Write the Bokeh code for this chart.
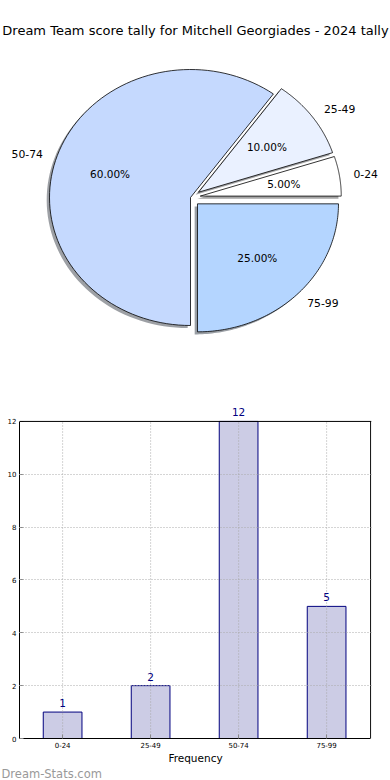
import numpy as np
from bokeh.plotting import figure
from bokeh.models import (Label, Range1d, FixedTicker, Title, ColumnDataSource,
                          Column, Row, LinearAxis, Span)
from bokeh.embed import file_html
from bokeh.resources import INLINE
from bokeh.core.properties import value

# ---------------- data ----------------
title_text = "Dream Team score tally for Mitchell Georgiades - 2024 tally"
categories = ["0-24", "25-49", "50-74", "75-99"]
counts = [1, 2, 12, 5]
pie_colors = ["#ffffff", "#eaf1ff", "#c5d9fe", "#b4d5ff"]
explode = [0.07, 0.07, 0.0, 0.07]
y_ticks = [0, 2, 4, 6, 8, 10, 12]
y_max = 12
x_axis_label = "Frequency"
watermark = "Dream-Stats.com"

FONT = "DejaVu Sans"

# ---------------- pie ----------------
p1 = figure(width=390, height=395, output_backend="svg", toolbar_location=None,
            x_range=Range1d(-190 / 141, 200 / 141),
            y_range=Range1d(-198 / 128, 197 / 128),
            x_axis_location=None, y_axis_location=None,
            min_border=0, outline_line_color=None)
p1.grid.visible = False

vals = np.array(counts, dtype=float)
fr = vals / vals.sum()
ends = np.cumsum(fr) * 2 * np.pi
starts = ends - fr * 2 * np.pi

wx, wy, sx, sy, scol = [], [], [], [], []
for i in range(len(categories)):
    th = np.linspace(starts[i], ends[i], 90)
    mid = (starts[i] + ends[i]) / 2
    ox, oy = explode[i] * np.cos(mid), explode[i] * np.sin(mid)
    xs = [ox] + list(ox + np.cos(th))
    ys = [oy] + list(oy + np.sin(th))
    wx.append(xs)
    wy.append(ys)
    sx.append([x - 0.02 for x in xs])
    sy.append([y - 0.02 for y in ys])
    h = pie_colors[i].lstrip("#")
    rgb = [int(h[k:k + 2], 16) for k in (0, 2, 4)]
    scol.append("#%02x%02x%02x" % tuple(int(0.3 * c) for c in rgb))

p1.patches(xs=sx, ys=sy, fill_color=scol, fill_alpha=0.5, line_color=None)
p1.patches(xs=wx, ys=wy, fill_color=pie_colors, line_color="black", line_width=0.8)

for i, cat in enumerate(categories):
    mid = (starts[i] + ends[i]) / 2
    ox, oy = explode[i] * np.cos(mid), explode[i] * np.sin(mid)
    lx, ly = ox + 1.1 * np.cos(mid), oy + 1.1 * np.sin(mid)
    p1.text(x=[lx], y=[ly], text=[cat],
            text_align="left" if lx > 0 else "right", text_baseline="middle",
            text_font=value(FONT), text_font_size="10.8px", text_color="black")
    px, py = ox + 0.6 * np.cos(mid), oy + 0.6 * np.sin(mid)
    p1.text(x=[px], y=[py], text=["%.2f%%" % (100 * fr[i])],
            text_align="center", text_baseline="middle",
            text_font=value(FONT), text_font_size="10.5px", text_color="black")

p1.add_layout(Label(x=195, y=365, x_units="screen", y_units="screen",
                    text=title_text, text_align="center", text_baseline="middle",
                    text_font=FONT, text_font_size="13px", text_color="black"))

# ---------------- bars ----------------
xpos = list(range(len(categories)))
# frame extends a little above y_max to leave room for the value labels
p2 = figure(width=390, height=385, output_backend="svg", toolbar_location=None,
            x_range=Range1d(-0.49, 3.51), y_range=Range1d(0, y_max * 1.066),
            y_axis_location=None,
            min_border_left=19, min_border_right=19, min_border_top=5,
            min_border_bottom=0, outline_line_color=None)

src = ColumnDataSource(dict(x=xpos, count=counts))
p2.vbar(x="x", top="count", width=0.44, source=src,
        fill_color="#ccccE5", line_color="#00007f", line_width=1)

# vertical dotted grid lines, limited to the axes box
p2.segment(x0=xpos, y0=[0] * len(xpos), x1=xpos, y1=[y_max] * len(xpos),
           line_color="#aaaaaa", line_dash="1 2", line_width=1)
p2.xgrid.visible = False
# right edge of the axes box
p2.segment(x0=[xpos[-1] + 0.5], y0=[0], x1=[xpos[-1] + 0.5], y1=[y_max],
           line_color="black", line_width=1)

for xv, c in zip(xpos, counts):
    p2.add_layout(Label(x=xv, y=c, y_offset=5, text=str(c),
                        text_align="center", text_baseline="bottom",
                        text_font=FONT, text_font_size="10.5px",
                        text_color="#000080"))

# left axis bounded to the box
yl = LinearAxis(ticker=FixedTicker(ticks=y_ticks), bounds=(0, y_max))
p2.add_layout(yl, "left")
p2.ygrid.ticker = FixedTicker(ticks=y_ticks[1:-1])
p2.ygrid.grid_line_color = "#aaaaaa"
p2.ygrid.grid_line_dash = "1 2"
p2.ygrid.grid_line_width = 1
p2.ygrid.level = "overlay"

p2.add_layout(Span(location=y_max, dimension="width", line_color="black",
                   line_width=1))

p2.xaxis.ticker = FixedTicker(ticks=xpos)
p2.xaxis.major_label_overrides = {xv: c for xv, c in zip(xpos, categories)}
p2.xaxis.bounds = (-0.49, xpos[-1] + 0.5)
for ax in (p2.xaxis[0], yl):
    ax.major_label_text_font = FONT
    ax.major_tick_in = 4
    ax.major_tick_out = 0
    ax.major_tick_line_color = "#888888"
    ax.minor_tick_line_color = None
    ax.axis_line_color = "black"
    ax.major_label_text_font_size = "7px"
    ax.major_label_text_color = "black"
    ax.major_label_standoff = 3
p2.xaxis.axis_label = x_axis_label
p2.xaxis.axis_label_text_font = FONT
p2.xaxis.axis_label_text_font_size = "10.5px"
p2.xaxis.axis_label_text_font_style = "normal"
p2.xaxis.axis_label_text_color = "black"
p2.xaxis.axis_label_standoff = 1
p2.xaxis.major_label_standoff = 3

p2.add_layout(Title(text=watermark, align="left", vertical_align="middle",
                    text_font=FONT, text_font_size="11.5px",
                    text_font_style="normal", text_color="#999999",
                    standoff=-2, offset=-18), "below")

layout = Column(children=[Row(children=[p1]), Row(children=[p2])])
open("out.html", "w").write(file_html(layout, INLINE))
